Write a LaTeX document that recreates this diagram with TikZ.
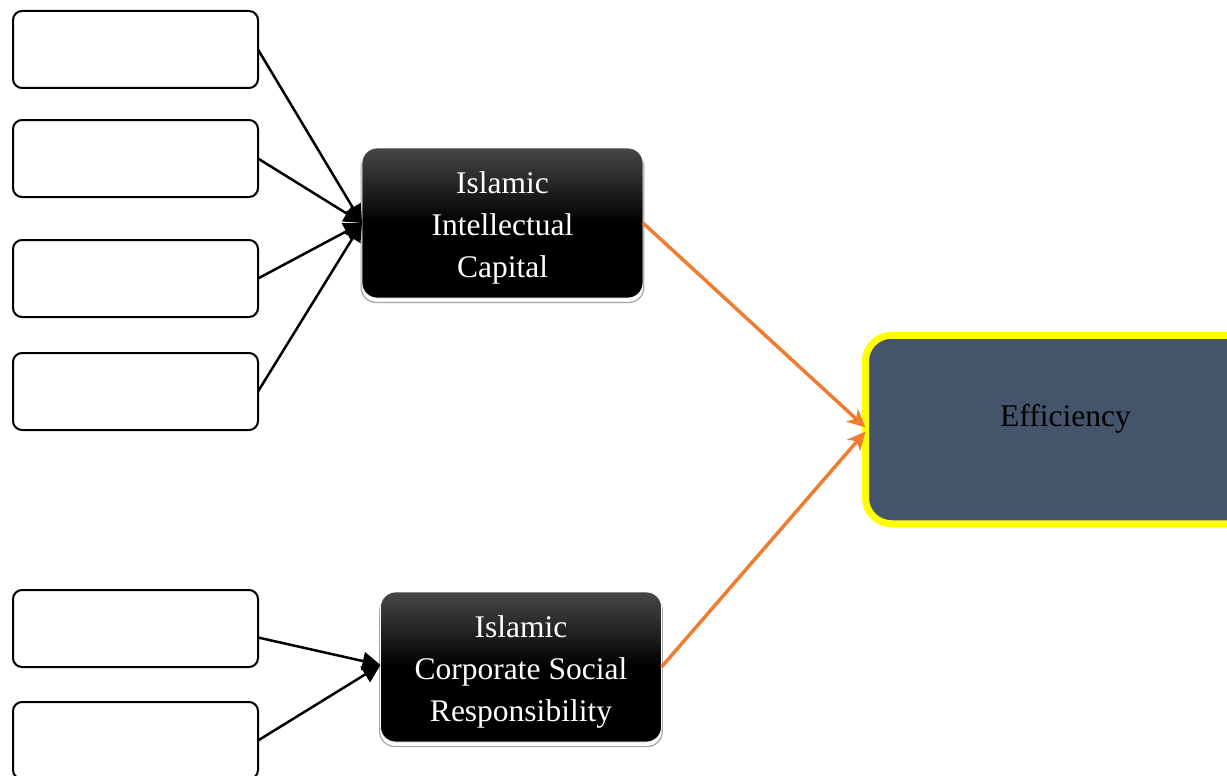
\documentclass[tikz,border=0pt]{standalone}
\usepackage{fontspec}
\setmainfont{Liberation Serif}
\usetikzlibrary{arrows.meta,shadows}
\definecolor{effblue}{HTML}{44546A}
\definecolor{orangeline}{HTML}{ED7D31}
\definecolor{ylw}{HTML}{FFFF00}
\begin{document}
\begin{tikzpicture}[x=1pt,y=-1pt,
  inbox/.style={draw=black, line width=2pt, fill=white, rounded corners=9pt,
    minimum width=245pt, minimum height=77pt, inner sep=0pt, outer sep=0pt},
  darkbox/.style={rounded corners=15pt, minimum width=281pt, minimum height=150pt,
    inner sep=0pt, outer sep=0pt, draw=white, line width=0.8pt,
    top color=black!72, bottom color=black, middle color=black,
    general shadow={shadow yshift=-4pt, shadow scale=1.006, fill=white, draw=gray!70, line width=1.2pt}},
  darktext/.style={text=white, align=center, font=\fontsize{31.5}{42}\selectfont, inner sep=0pt},
  effbox/.style={rounded corners=26pt, minimum width=400pt, minimum height=188.5pt,
    inner sep=0pt, outer sep=0pt, draw=ylw, line width=7pt, fill=effblue},
  blackarrow/.style={line width=2.5pt, -{Triangle[length=18pt,width=18pt]}},
  orangearrow/.style={draw=orangeline, line width=3.5pt, -{Stealth[length=18pt,width=17pt,inset=5pt]}}
]
\useasboundingbox (0,0) rectangle (1227,776);
\fill[white] (0,0) rectangle (1227,776);

\node[inbox] (b1) at (135.5,49.5) {};
\node[inbox] (b2) at (135.5,158.5) {};
\node[inbox] (b3) at (135.5,278.5) {};
\node[inbox] (b4) at (135.5,391.5) {};
\node[inbox] (b5) at (135.5,628.5) {};
\node[inbox] (b6) at (135.5,740.5) {};

\node[darkbox] (iic) at (502.5,223) {};
\node[darktext] (iict) at (502.5,228) {Islamic\\Intellectual\\Capital};
\node[darkbox] (icsr) at (521,667) {};
\node[darktext] (icsrt) at (521,672) {Islamic\\Corporate Social\\Responsibility};

\node[effbox] (eff) at (1065.5,429.5) {};
\node[font=\fontsize{31.5}{42}\selectfont, text=black] (efft) at (1065.5,419) {Efficiency};

\draw[blackarrow] (b1.east) -- (iic.west);
\draw[blackarrow] (b2.east) -- (iic.west);
\draw[blackarrow] (b3.east) -- (iic.west);
\draw[blackarrow] (b4.east) -- (iic.west);
\draw[blackarrow] ([yshift=-9pt]b5.east) -- ([yshift=2pt]icsr.west);
\draw[blackarrow] (b6.east) -- ([yshift=2pt]icsr.west);

\draw[orangearrow] (iic.east) -- ([yshift=2pt]eff.west);
\draw[orangearrow] (icsr.east) -- ([yshift=-2pt]eff.west);
\end{tikzpicture}
\end{document}
